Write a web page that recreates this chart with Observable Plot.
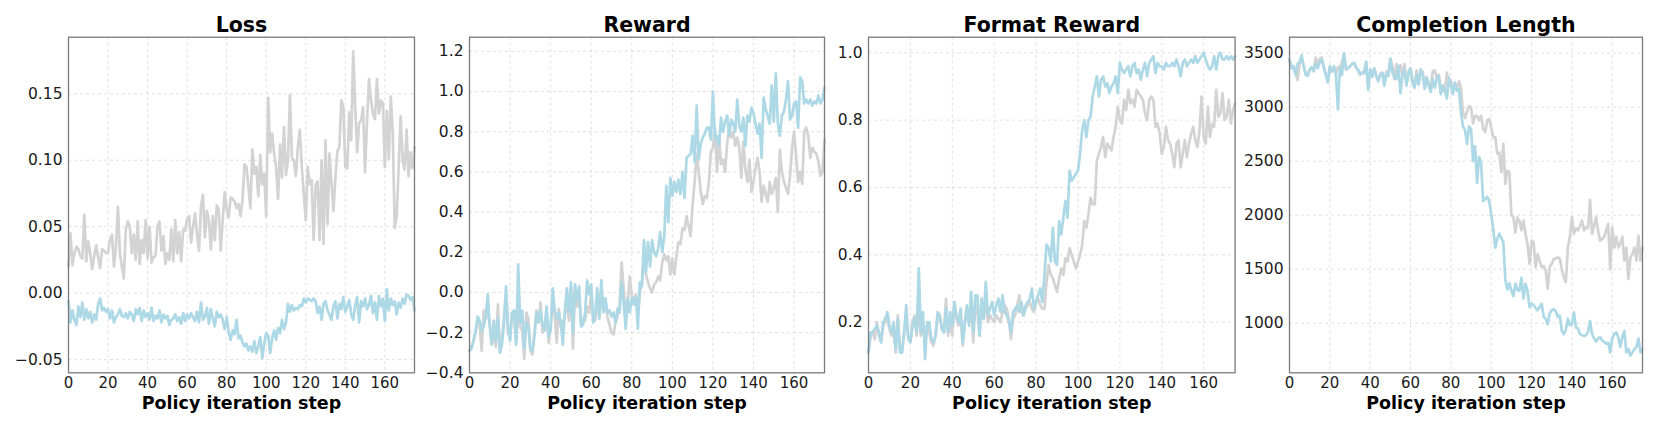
<!DOCTYPE html>
<html>
<head>
<meta charset="utf-8">
<script src="https://cdn.jsdelivr.net/npm/d3@7"></script>
<script src="https://cdn.jsdelivr.net/npm/@observablehq/plot@0.6"></script>
<style>
  html, body { margin: 0; padding: 0; background: #fff; }
  #wrap { position: relative; width: 1661px; height: 427px; overflow: hidden; background: #fff; }
  .panel { position: absolute; top: 0; }
</style>
</head>
<body>
<div id="wrap"></div>
<script>
// ---------- data ----------
const xTicks = [0, 20, 40, 60, 80, 100, 120, 140, 160];
const xLabel = "Policy iteration step";
const titles = ["Loss", "Reward", "Format Reward", "Completion Length"];

const lossGray = [
0.020,0.045,0.021,0.030,0.035,0.033,0.028,0.026,0.059,0.024,
0.039,0.030,0.018,0.028,0.036,0.027,0.019,0.033,0.032,0.030,
0.031,0.040,0.044,0.020,0.035,0.065,0.030,0.020,0.011,0.048,
0.054,0.050,0.030,0.044,0.025,0.054,0.022,0.040,0.030,0.055,
0.026,0.050,0.023,0.027,0.028,0.050,0.054,0.032,0.043,0.022,
0.030,0.025,0.048,0.024,0.055,0.030,0.046,0.024,0.048,0.047,
0.056,0.058,0.038,0.050,0.060,0.045,0.032,0.065,0.074,0.042,
0.062,0.055,0.033,0.058,0.040,0.066,0.063,0.032,0.055,0.076,
0.063,0.057,0.072,0.071,0.069,0.064,0.067,0.058,0.070,0.097,
0.095,0.080,0.064,0.108,0.090,0.095,0.073,0.104,0.082,0.090,
0.058,0.147,0.106,0.120,0.105,0.095,0.071,0.112,0.087,0.125,
0.089,0.100,0.149,0.102,0.100,0.088,0.110,0.123,0.095,0.075,
0.055,0.095,0.082,0.085,0.040,0.082,0.084,0.040,0.100,0.037,
0.115,0.052,0.105,0.083,0.062,0.087,0.107,0.110,0.145,0.140,
0.095,0.094,0.136,0.115,0.182,0.140,0.106,0.128,0.130,0.140,
0.091,0.130,0.161,0.145,0.135,0.131,0.161,0.135,0.145,0.143,
0.095,0.137,0.101,0.148,0.120,0.049,0.058,0.095,0.133,0.100,
0.093,0.123,0.088,0.106,0.094,0.110];

const lossBlue = [
-0.006,-0.022,-0.013,-0.020,-0.024,-0.010,-0.018,-0.007,-0.020,-0.012,
-0.019,-0.014,-0.022,-0.016,-0.020,-0.008,-0.004,-0.013,-0.011,-0.014,
-0.012,-0.019,-0.013,-0.022,-0.018,-0.016,-0.012,-0.017,-0.018,-0.015,
-0.019,-0.014,-0.016,-0.021,-0.012,-0.016,-0.011,-0.021,-0.013,-0.018,
-0.015,-0.020,-0.011,-0.021,-0.017,-0.019,-0.013,-0.022,-0.016,-0.019,
-0.017,-0.024,-0.020,-0.019,-0.016,-0.021,-0.018,-0.023,-0.015,-0.021,
-0.016,-0.019,-0.015,-0.018,-0.021,-0.014,-0.022,-0.007,-0.020,-0.018,
-0.011,-0.023,-0.012,-0.019,-0.025,-0.014,-0.018,-0.016,-0.020,-0.027,
-0.018,-0.029,-0.035,-0.028,-0.031,-0.020,-0.034,-0.032,-0.037,-0.040,
-0.038,-0.043,-0.040,-0.044,-0.036,-0.045,-0.040,-0.033,-0.049,-0.038,
-0.030,-0.032,-0.045,-0.034,-0.028,-0.035,-0.026,-0.030,-0.020,-0.027,
-0.022,-0.008,-0.014,-0.009,-0.013,-0.011,-0.012,-0.009,-0.010,-0.004,
-0.007,-0.004,-0.005,-0.006,-0.004,-0.006,-0.015,-0.010,-0.020,-0.008,
-0.006,-0.013,-0.016,-0.020,-0.010,-0.006,-0.019,-0.008,-0.012,-0.003,
-0.014,-0.010,-0.005,-0.016,-0.020,-0.009,-0.003,-0.022,-0.006,-0.010,
-0.004,-0.012,-0.009,-0.002,-0.015,-0.007,-0.020,-0.002,-0.010,-0.004,
-0.021,0.003,-0.013,-0.004,-0.009,-0.006,-0.016,-0.007,-0.011,-0.004,
-0.008,-0.001,-0.002,-0.005,-0.003,-0.013];

const rewardGray = [
-0.29,-0.27,-0.24,-0.20,-0.14,-0.16,-0.29,-0.09,-0.13,-0.10,
-0.16,-0.25,-0.22,-0.27,-0.06,-0.30,-0.24,-0.12,-0.02,-0.20,
-0.23,-0.10,-0.12,-0.25,-0.10,-0.17,-0.19,-0.33,-0.10,-0.13,
-0.29,-0.31,-0.20,-0.09,-0.15,-0.05,-0.20,-0.16,-0.09,-0.25,
-0.16,-0.07,-0.11,-0.25,-0.08,-0.17,-0.15,-0.12,-0.03,-0.14,
0.03,-0.28,0.01,-0.07,0.00,-0.16,-0.13,-0.14,-0.07,-0.10,
0.00,-0.12,-0.14,-0.04,-0.12,0.01,-0.09,-0.06,-0.12,-0.16,
-0.20,-0.21,-0.15,-0.12,-0.06,0.15,0.02,-0.10,-0.05,0.08,
-0.02,-0.04,-0.01,-0.10,0.00,0.05,0.17,0.09,0.05,0.02,
0.00,0.04,0.05,0.08,0.06,0.15,0.19,0.16,0.18,0.09,
0.17,0.09,0.18,0.25,0.24,0.32,0.31,0.38,0.33,0.28,
0.44,0.55,0.69,0.60,0.50,0.44,0.48,0.47,0.55,0.70,
0.72,0.82,0.60,0.77,0.64,0.66,0.60,0.74,0.82,0.77,
0.80,0.73,0.77,0.72,0.57,0.75,0.61,0.55,0.66,0.50,
0.55,0.62,0.67,0.60,0.45,0.53,0.49,0.45,0.55,0.49,
0.52,0.57,0.40,0.71,0.60,0.55,0.52,0.49,0.58,0.72,
0.80,0.68,0.55,0.60,0.54,0.80,0.82,0.78,0.67,0.72,
0.70,0.69,0.65,0.58,0.60,0.76];

const rewardBlue = [
-0.29,-0.28,-0.24,-0.19,-0.12,-0.14,-0.19,-0.17,-0.12,-0.01,
-0.17,-0.26,-0.14,-0.24,-0.13,-0.30,-0.26,-0.15,0.03,-0.18,
-0.24,-0.10,-0.09,-0.26,0.14,-0.15,-0.09,-0.28,-0.15,-0.17,
-0.28,-0.29,-0.22,-0.10,-0.15,-0.09,-0.16,-0.19,-0.07,-0.22,
-0.19,0.02,-0.09,-0.13,-0.10,-0.15,-0.26,-0.09,0.02,-0.10,
0.05,-0.20,0.04,-0.04,0.03,-0.17,-0.16,-0.10,0.06,-0.01,
0.04,-0.15,-0.10,0.02,-0.13,0.06,-0.10,-0.03,-0.10,-0.09,
-0.12,-0.10,-0.15,-0.08,-0.10,0.05,-0.05,-0.18,-0.03,-0.10,
-0.03,-0.06,-0.02,-0.18,0.05,0.03,0.26,0.10,0.25,0.13,
0.26,0.20,0.18,0.22,0.30,0.20,0.28,0.53,0.35,0.57,
0.48,0.55,0.50,0.56,0.49,0.60,0.47,0.67,0.68,0.69,
0.78,0.65,0.93,0.66,0.74,0.77,0.79,0.82,0.82,0.76,
1.00,0.76,0.78,0.73,0.87,0.80,0.85,0.88,0.78,0.86,
0.84,0.80,0.96,0.83,0.80,0.87,0.73,0.88,0.85,0.92,
0.89,0.84,0.79,0.84,0.67,0.97,0.91,0.88,0.84,1.03,
0.85,1.09,0.84,0.78,0.88,0.90,0.96,1.05,0.86,0.88,
0.94,0.95,0.82,1.07,1.05,0.94,0.96,0.94,0.96,0.93,
0.95,0.94,0.98,0.94,0.96,1.02];

const formatGray = [
0.11,0.16,0.17,0.15,0.20,0.16,0.14,0.19,0.20,0.21,
0.18,0.16,0.17,0.11,0.22,0.12,0.11,0.17,0.22,0.15,
0.14,0.20,0.22,0.16,0.25,0.16,0.20,0.14,0.19,0.17,
0.14,0.13,0.16,0.21,0.22,0.18,0.17,0.27,0.16,0.20,
0.16,0.25,0.21,0.19,0.21,0.13,0.20,0.24,0.20,0.25,
0.14,0.25,0.23,0.16,0.25,0.21,0.28,0.20,0.22,0.21,
0.20,0.22,0.21,0.20,0.23,0.25,0.24,0.21,0.15,0.21,
0.22,0.25,0.28,0.23,0.22,0.24,0.25,0.26,0.24,0.23,
0.26,0.27,0.25,0.24,0.24,0.32,0.37,0.34,0.33,0.31,
0.29,0.33,0.36,0.34,0.39,0.38,0.42,0.40,0.38,0.36,
0.38,0.40,0.43,0.50,0.48,0.52,0.57,0.55,0.55,0.68,
0.70,0.72,0.75,0.69,0.73,0.72,0.71,0.75,0.78,0.84,
0.80,0.79,0.86,0.83,0.89,0.85,0.86,0.84,0.89,0.88,
0.87,0.86,0.82,0.80,0.86,0.87,0.86,0.78,0.79,0.76,
0.70,0.72,0.78,0.74,0.73,0.70,0.66,0.73,0.74,0.66,
0.70,0.74,0.69,0.73,0.76,0.78,0.74,0.72,0.77,0.87,
0.75,0.73,0.84,0.75,0.79,0.78,0.89,0.81,0.82,0.88,
0.80,0.81,0.86,0.79,0.83,0.85];

const formatBlue = [
0.11,0.17,0.17,0.18,0.19,0.17,0.14,0.20,0.21,0.23,
0.19,0.17,0.20,0.12,0.21,0.11,0.11,0.17,0.25,0.15,
0.14,0.19,0.21,0.17,0.36,0.17,0.23,0.09,0.20,0.20,
0.15,0.14,0.16,0.23,0.22,0.18,0.17,0.24,0.17,0.23,
0.19,0.26,0.22,0.20,0.24,0.14,0.20,0.25,0.19,0.29,
0.17,0.28,0.28,0.16,0.27,0.21,0.32,0.22,0.24,0.26,
0.22,0.25,0.27,0.23,0.28,0.23,0.22,0.20,0.17,0.23,
0.24,0.25,0.23,0.26,0.22,0.25,0.26,0.27,0.30,0.24,
0.26,0.28,0.30,0.26,0.34,0.43,0.42,0.38,0.48,0.38,
0.37,0.50,0.46,0.51,0.56,0.51,0.65,0.62,0.63,0.64,
0.65,0.70,0.77,0.80,0.75,0.80,0.81,0.87,0.90,0.93,
0.87,0.92,0.93,0.90,0.91,0.88,0.90,0.91,0.93,0.88,
0.97,0.95,0.94,0.95,0.96,0.93,0.96,0.97,0.94,0.95,
0.92,0.95,0.97,0.93,0.97,0.98,0.99,0.94,0.97,0.96,
0.96,0.95,0.97,0.96,0.96,0.97,0.96,0.98,0.96,0.93,
0.97,0.98,0.96,0.97,0.98,0.97,0.99,0.97,0.98,0.99,
1.00,0.98,0.96,0.95,0.96,0.99,0.95,0.99,1.00,0.98,
0.98,0.99,0.98,0.99,0.98,0.99];

const lengthGray = [
3430,3380,3360,3320,3250,3400,3450,3390,3310,3290,
3350,3360,3330,3460,3380,3450,3460,3370,3310,3230,
3370,3330,3360,3310,3370,3350,3420,3490,3350,3360,
3380,3400,3410,3370,3330,3300,3320,3310,3420,3200,
3340,3300,3360,3290,3250,3310,3320,3220,3330,3300,
3450,3380,3260,3400,3290,3390,3300,3400,3210,3330,
3360,3250,3200,3340,3220,3320,3330,3180,3280,3220,
3180,3330,3340,3270,3300,3160,3200,3140,3320,3250,
3250,3150,3220,3160,3240,3180,2950,2900,2960,3010,
3000,2850,2920,2920,2880,2920,2800,2770,2880,2890,
2810,2720,2720,2570,2580,2400,2660,2290,2410,2400,
2000,1980,1840,1980,1950,1860,1950,1830,1730,1550,
1765,1750,1520,1640,1580,1520,1530,1490,1320,1520,
1550,1595,1600,1610,1600,1500,1425,1380,1700,1800,
1980,1830,1880,1860,1900,1950,1860,1890,1880,2140,
1830,1900,1980,1850,1765,1780,1800,1860,1920,1500,
1890,1700,1800,1700,1735,1800,1580,1700,1410,1610,
1640,1700,1580,1810,1580,1700];

const lengthBlue = [
3440,3360,3380,3300,3400,3420,3480,3380,3300,3290,
3350,3370,3340,3400,3360,3420,3440,3370,3300,3230,
3380,3330,3380,3300,2980,3370,3300,3500,3350,3360,
3380,3400,3410,3370,3350,3310,3320,3320,3420,3160,
3350,3280,3360,3290,3240,3300,3320,3200,3310,3290,
3450,3320,3280,3260,3380,3130,3290,3350,3200,3320,
3360,3220,3180,3300,3210,3350,3310,3170,3270,3200,
3140,3260,3180,3260,3290,3120,3200,3160,3080,3270,
3200,3120,3230,3150,3170,2950,2820,2790,2660,2820,
2800,2500,2640,2300,2540,2480,2130,2150,2170,2130,
2010,1880,1700,1780,1830,1790,1750,1400,1310,1370,
1300,1250,1365,1310,1300,1420,1230,1365,1300,1150,
1180,1170,1140,1120,1150,1180,1060,1040,990,1090,
1120,1130,1110,1060,1070,930,900,940,1040,980,
990,1100,960,950,900,890,880,890,920,1020,
900,860,830,860,870,840,830,810,820,730,
860,900,915,870,780,870,930,730,760,700,
730,760,780,860,730,760];

const yTicksLoss = [-0.05, 0.00, 0.05, 0.10, 0.15];
const yTicksReward = [-0.4, -0.2, 0.0, 0.2, 0.4, 0.6, 0.8, 1.0, 1.2];
const yTicksFormat = [0.2, 0.4, 0.6, 0.8, 1.0];
const yTicksLength = [1000, 1500, 2000, 2500, 3000, 3500];

// ---------- layout ----------
const grayColor = "#d3d3d3";
const blueColor = "#add8e6";
const H = 427, MT = 36.7, MB = 54.7, ML = 60, MR = 12;

const panels = [
  {title: titles[0], gray: lossGray, blue: lossBlue, domain: [-0.0599, 0.1926], ticks: yTicksLoss, fmt: d3.format(".2f"), frameLeft: 68, frameW: 346},
  {title: titles[1], gray: rewardGray, blue: rewardBlue, domain: [-0.4, 1.27], ticks: yTicksReward, fmt: d3.format(".1f"), frameLeft: 468.7, frameW: 355},
  {title: titles[2], gray: formatGray, blue: formatBlue, domain: [0.0497, 1.0463], ticks: yTicksFormat, fmt: d3.format(".1f"), frameLeft: 867.7, frameW: 366.6},
  {title: titles[3], gray: lengthGray, blue: lengthBlue, domain: [541, 3648], ticks: yTicksLength, fmt: d3.format("d"), frameLeft: 1289.3, frameW: 353}
];

const wrap = document.getElementById("wrap");
const font = "'DejaVu Sans', 'Liberation Sans', sans-serif";

for (const p of panels) {
  const width = ML + p.frameW + MR;
  const gData = p.gray.map((v, i) => ({step: i, value: v}));
  const bData = p.blue.map((v, i) => ({step: i, value: v}));
  const chart = Plot.plot({
    width, height: H,
    marginLeft: ML, marginRight: MR, marginTop: MT, marginBottom: MB,
    style: {fontFamily: font, fontSize: "15px", color: "#1a1a1a", background: "transparent", maxWidth: "none", overflow: "visible"},
    x: {domain: [0, 175]},
    y: {domain: p.domain},
    marks: [
      Plot.gridX(xTicks, {stroke: "#b8b8b8", strokeOpacity: 0.55, strokeDasharray: "3,3", strokeWidth: 0.8}),
      Plot.gridY(p.ticks, {stroke: "#b8b8b8", strokeOpacity: 0.55, strokeDasharray: "3,3", strokeWidth: 0.8}),
      Plot.line(gData, {x: "step", y: "value", stroke: grayColor, strokeWidth: 2.7}),
      Plot.line(bData, {x: "step", y: "value", stroke: blueColor, strokeWidth: 2.7}),
      Plot.frame({stroke: "#7a7a7a", strokeWidth: 1.3}),
      Plot.axisX(xTicks, {tickSize: 0, tickPadding: 5, label: null, fontSize: 15, fill: "#1a1a1a"}),
      Plot.axisY(p.ticks, {tickSize: 0, tickPadding: 6, label: null, tickFormat: p.fmt, fontSize: 15.5, fill: "#1a1a1a"}),
      Plot.text([p.title], {frameAnchor: "top", lineAnchor: "middle", dy: -11.7, fontSize: 20.5, fontWeight: "bold", fill: "#000"}),
      Plot.text([xLabel], {frameAnchor: "bottom", lineAnchor: "middle", dy: 30.5, fontSize: 17.5, fontWeight: "bold", fill: "#000"})
    ]
  });
  const div = document.createElement("div");
  div.className = "panel";
  div.style.left = (p.frameLeft - ML) + "px";
  div.style.width = width + "px";
  div.appendChild(chart);
  wrap.appendChild(div);
}
</script>
</body>
</html>
